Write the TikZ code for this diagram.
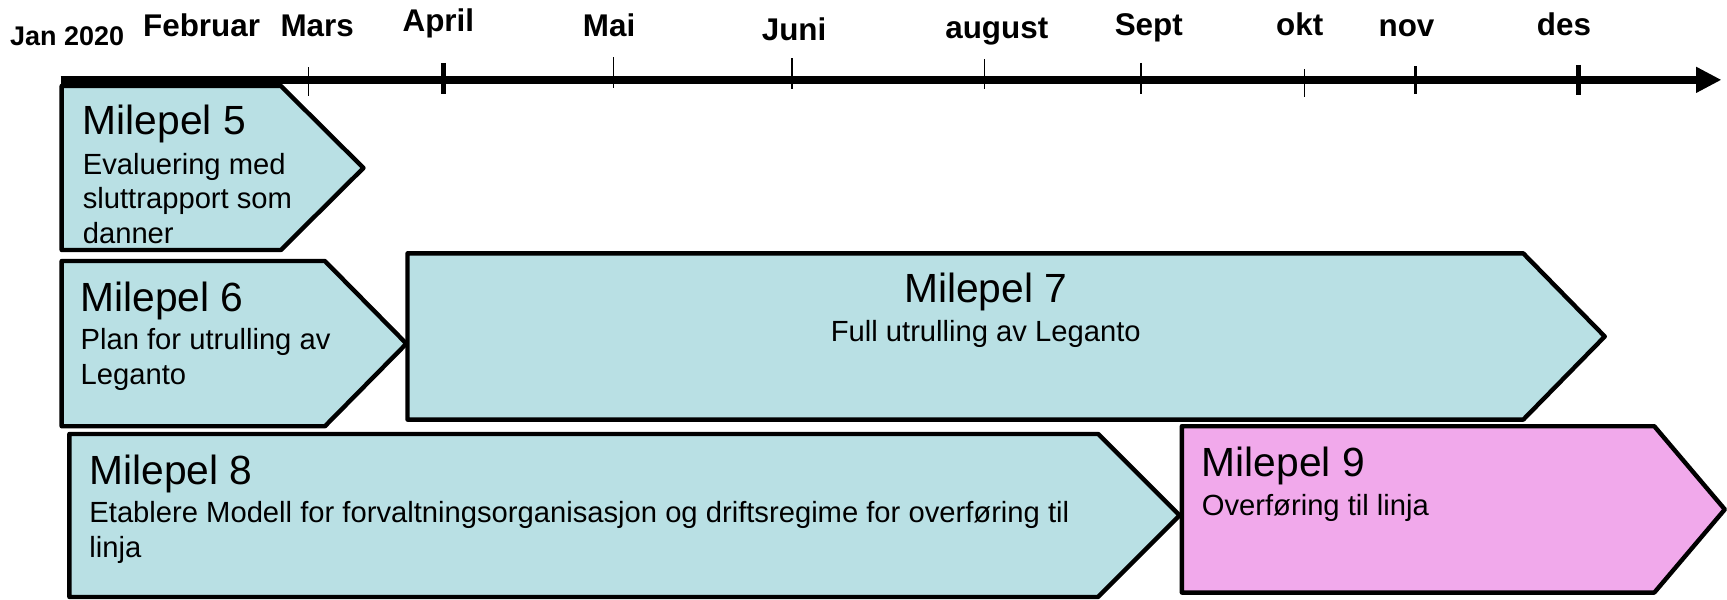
\documentclass[tikz,border=0pt]{standalone}
\usepackage{fontspec}
\setmainfont{Liberation Sans}
\usetikzlibrary{arrows.meta}
\definecolor{msblue}{RGB}{185,224,228}
\definecolor{mspink}{RGB}{241,169,235}
\tikzset{
  mbox/.style={draw=black,line width=4pt,line join=round,fill=msblue},
  pbox/.style={draw=black,line width=4pt,line join=round,fill=mspink},
  month/.style={anchor=base,inner sep=0pt,font=\bfseries\fontsize{28.5}{30}\selectfont},
  ttl/.style={anchor=base west,inner sep=0pt,font=\fontsize{37}{40}\selectfont},
  body/.style={anchor=base west,inner sep=0pt,align=left,font=\fontsize{26.5}{31.5}\selectfont},
  tick/.style={draw=black}
}
\begin{document}
\begin{tikzpicture}[x=1pt,y=-1pt]
\useasboundingbox (0,0) rectangle (1568,544);
% boxes
\draw[mbox] (56,78) -- (255,78) -- (330,152.5) -- (255,227) -- (56,227) -- cycle;
\draw[mbox] (56,237) -- (295,237) -- (369,312) -- (295,387) -- (56,387) -- cycle;
\draw[mbox] (370,230) -- (1383,230) -- (1457,305.5) -- (1383,381) -- (370,381) -- cycle;
\draw[mbox] (63,394) -- (997,394) -- (1071,468) -- (997,542) -- (63,542) -- cycle;
\draw[pbox] (1073,387) -- (1502,387) -- (1566,462.5) -- (1502,538) -- (1073,538) -- cycle;
% axis
\coordinate (ax0) at (55,72.5);
\coordinate (ax1) at (1563,72.5);
\draw[line width=7pt,-{Triangle[length=23pt,width=22pt]}] (ax0) -- (ax1);
% ticks
\draw[tick,line width=1.5pt] (280,61) coordinate (t1) -- (280,87) coordinate (t1b);
\draw[tick,line width=4.5pt] (403,57) coordinate (t2) -- (403,85) coordinate (t2b);
\draw[tick,line width=1.2pt] (557,52) coordinate (t3) -- (557,80) coordinate (t3b);
\draw[tick,line width=1.5pt] (719,53) coordinate (t4) -- (719,81) coordinate (t4b);
\draw[tick,line width=1.2pt] (894,54) coordinate (t5) -- (894,81) coordinate (t5b);
\draw[tick,line width=1.5pt] (1036,57) coordinate (t6) -- (1036,85) coordinate (t6b);
\draw[tick,line width=1pt] (1184,63) coordinate (t7) -- (1184,88) coordinate (t7b);
\draw[tick,line width=3pt] (1285,60) coordinate (t8) -- (1285,85) coordinate (t8b);
\draw[tick,line width=5pt] (1433,59) coordinate (t9) -- (1433,86) coordinate (t9b);
% month labels
\node[month,font=\bfseries\fontsize{24.5}{26}\selectfont] (mjan) at (61,41) {Jan 2020};
\node[month] (mfeb) at (183,33) {Februar};
\node[month] (mmar) at (288,33) {Mars};
\node[month] (mapr) at (398,29) {April};
\node[month] (mmai) at (553,33) {Mai};
\node[month] (mjun) at (721,37) {Juni};
\node[month] (maug) at (905,35) {august};
\node[month] (msep) at (1043,32) {Sept};
\node[month] (mokt) at (1180,32) {okt};
\node[month] (mnov) at (1277,33) {nov};
\node[month] (mdes) at (1420,32) {des};
% texts
\node[ttl] (m5) at (75,122) {Milepel 5};
\node[body] (m5b) at (75,221) {Evaluering med\\sluttrapport som\\danner};
\node[ttl] (m6) at (73,283) {Milepel 6};
\node[body] (m6b) at (73,349) {Plan for utrulling av\\Leganto};
\node[ttl,anchor=base] (m7) at (895,275) {Milepel 7};
\node[body,anchor=base] (m7b) at (895,310) {Full utrulling av Leganto};
\node[ttl] (m8) at (81,440) {Milepel 8};
\node[body] (m8b) at (81,506) {Etablere Modell for forvaltningsorganisasjon og driftsregime for overføring til\\linja};
\node[ttl] (m9) at (1091,433) {Milepel 9};
\node[body] (m9b) at (1091,468) {Overføring til linja};
\end{tikzpicture}
\end{document}
